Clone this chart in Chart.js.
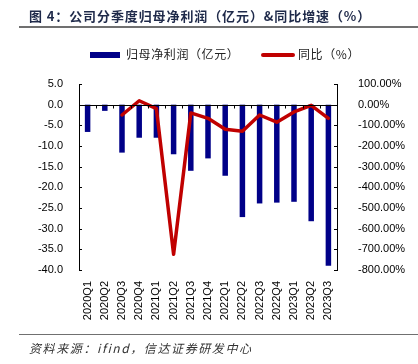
<!DOCTYPE html>
<html><head><meta charset="utf-8">
<script src="https://cdn.jsdelivr.net/npm/chart.js@4"></script>
<style>
html,body{margin:0;padding:0;background:#fff;width:418px;height:364px;overflow:hidden;font-family:"Liberation Sans",Arial,sans-serif;}
#wrap{position:relative;width:418px;height:364px;}
#c{position:absolute;left:0;top:0;}
.title{position:absolute;left:29px;top:6px;font-family:"Noto Sans CJK SC",sans-serif;font-weight:bold;font-size:13px;color:#1f2a4a;letter-spacing:0.9px;white-space:nowrap;}
.rule{position:absolute;left:19px;width:399px;height:1px;background:#707070;}
.legend{position:absolute;top:45px;font-family:"Noto Sans CJK SC",sans-serif;font-size:12px;color:#222;letter-spacing:0.6px;white-space:nowrap;}
.src{position:absolute;left:29px;top:339px;font-family:"Noto Sans CJK SC",sans-serif;font-size:12px;font-style:italic;color:#333;letter-spacing:1.6px;white-space:nowrap;}
</style></head>
<body><div id="wrap">
<canvas id="c" width="418" height="364"></canvas>
<div class="title">图 4：公司分季度归母净利润（亿元）&amp;同比增速（%）</div>
<div class="rule" style="top:26px;height:1.5px;"></div>
<div class="legend" style="left:90px;"><span style="display:inline-block;width:30px;height:6px;background:#000088;vertical-align:middle;margin-right:6px;position:relative;top:-1px;"></span>归母净利润（亿元）</div>
<div class="legend" style="left:261px;"><span style="display:inline-block;width:34px;height:4px;border-radius:2px;background:#C00000;vertical-align:middle;margin-right:3px;position:relative;top:-1px;"></span>同比（%）</div>
<div class="rule" style="top:334px;"></div>
<div class="src">资料来源：ifind，信达证券研发中心</div>
</div>
<script>
const categories = ["2020Q1","2020Q2","2020Q3","2020Q4","2021Q1","2021Q2","2021Q3","2021Q4","2022Q1","2022Q2","2022Q3","2022Q4","2023Q1","2023Q2","2023Q3"];
const profit = [-6.6,-1.5,-11.6,-8.0,-8.0,-12.0,-16.0,-13.0,-17.2,-27.2,-23.9,-23.7,-23.5,-28.2,-39.0];
const yoy = [null,null,-50,19,-19,-724,-40,-66,-119,-129,-50,-85,-35,-3,-66];
const leftTicks = {min:-40,max:5,step:5};
const rightTicks = {min:-800,max:100,step:100};

const tickPlugin = {
  id:'tickPlugin',
  afterDraw(chart){
    const ctx = chart.ctx, a = chart.chartArea;
    const x = chart.scales.x, y = chart.scales.y, y1 = chart.scales.y1;
    ctx.save();
    ctx.strokeStyle = '#000'; ctx.lineWidth = 1;
    const z = Math.round(y.getPixelForValue(0)) + 0.5;
    ctx.beginPath(); ctx.moveTo(a.left, z); ctx.lineTo(a.right, z); ctx.stroke();
    const step = (x.getPixelForValue(1) - x.getPixelForValue(0));
    for (let i = 0; i <= categories.length; i++) {
      const px = Math.round(x.getPixelForValue(i) - step/2) + 0.5;
      ctx.beginPath(); ctx.moveTo(px, z); ctx.lineTo(px, z + 3); ctx.stroke();
    }
    y.ticks.forEach(t => {
      const py = Math.round(y.getPixelForValue(t.value)) + 0.5;
      ctx.beginPath(); ctx.moveTo(a.left, py); ctx.lineTo(a.left + 3, py); ctx.stroke();
    });
    y1.ticks.forEach(t => {
      const py = Math.round(y1.getPixelForValue(t.value)) + 0.5;
      ctx.beginPath(); ctx.moveTo(a.right, py); ctx.lineTo(a.right - 3, py); ctx.stroke();
    });
    ctx.restore();
  }
};

new Chart(document.getElementById('c'), {
  data: {
    labels: categories,
    datasets: [
      {type:'line', label:'同比（%）', data: yoy, yAxisID:'y1', borderColor:'#C00000', borderWidth:3.5, pointRadius:0, tension:0, spanGaps:false, order:0, borderCapStyle:'round', borderJoinStyle:'round'},
      {type:'bar', label:'归母净利润（亿元）', data: profit, yAxisID:'y', backgroundColor:'#000088', barPercentage:0.32, categoryPercentage:1, order:1}
    ]
  },
  plugins:[tickPlugin],
  options: {
    responsive:false, animation:false,
    layout:{padding:{left:0,right:0,top:84,bottom:0}},
    plugins:{legend:{display:false}, tooltip:{enabled:false}},
    scales:{
      x:{
        offset:true,
        grid:{display:false}, border:{display:false},
        ticks:{minRotation:90,maxRotation:90,autoSkip:false,color:'#000',padding:3,font:{family:'Liberation Sans',size:11}},
        afterFit(s){s.height = 94;}
      },
      y:{
        position:'left', min:leftTicks.min, max:leftTicks.max,
        ticks:{stepSize:leftTicks.step,color:'#000',padding:8,font:{family:'Liberation Sans',size:11},callback:v=>v.toFixed(1)},
        grid:{display:false,drawOnChartArea:false},
        border:{display:true,color:'#000',width:1},
        afterFit(s){s.width = 79;}
      },
      y1:{
        position:'right', min:rightTicks.min, max:rightTicks.max,
        ticks:{stepSize:rightTicks.step,color:'#000',padding:13,font:{family:'Liberation Sans',size:11},callback:v=>v.toFixed(2)+'%'},
        grid:{display:false,drawOnChartArea:false},
        border:{display:true,color:'#000',width:1},
        afterFit(s){s.width = 81;}
      }
    }
  }
});
</script>
</body></html>
